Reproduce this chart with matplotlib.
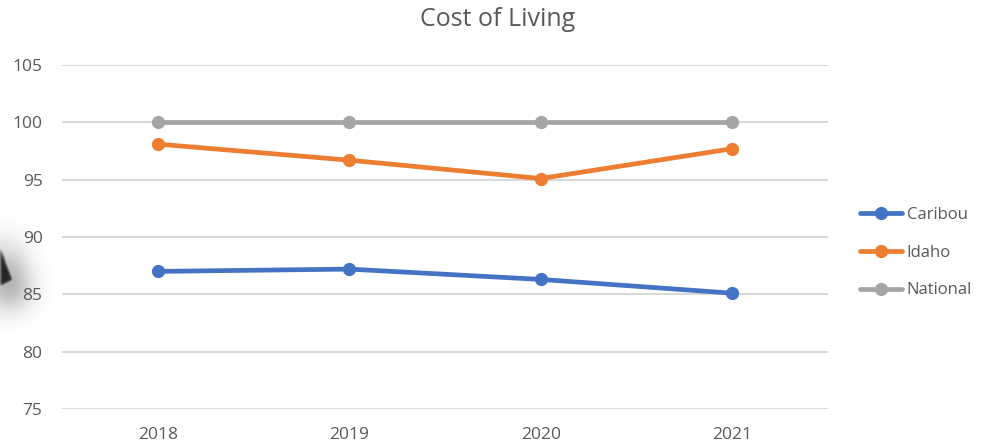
import numpy as np
import matplotlib
matplotlib.use("Agg")
import matplotlib.pyplot as plt
from matplotlib.path import Path

years = ["2018", "2019", "2020", "2021"]
caribou = [87.0, 87.2, 86.3, 85.1]
idaho = [98.1, 96.7, 95.1, 97.7]
national = [100.0, 100.0, 100.0, 100.0]
series_names = ["Caribou", "Idaho", "National"]
colors = ["#4472C4", "#ED7D31", "#A5A5A5"]
yticks = [75, 80, 85, 90, 95, 100, 105]

W, H = 993, 445
fig = plt.figure(figsize=(W / 100, H / 100), dpi=100)
plt.rcParams['font.family'] = ['Open Sans', 'DejaVu Sans']

# decorative blurred dark shape at the left edge (artifact in reference)
def blur(a, s):
    r = int(3 * s)
    k = np.exp(-np.arange(-r, r + 1) ** 2 / (2 * s * s))
    k /= k.sum()
    a = np.apply_along_axis(lambda v: np.convolve(v, k, mode='same'), 0, a)
    a = np.apply_along_axis(lambda v: np.convolve(v, k, mode='same'), 1, a)
    return a

yy, xx = np.mgrid[0:H, 0:W]
pts = np.column_stack([xx.ravel() + 0.5, yy.ravel() + 0.5])
core = Path([(-60, 95), (13, 280), (-120, 347)]).contains_points(pts).reshape(H, W).astype(float)
shadow = Path([(-60, 80), (24, 294), (-120, 365)]).contains_points(pts).reshape(H, W).astype(float)
shadow_b = blur(shadow, 15) * 0.95
core_b = blur(core, 1.5)
alpha = np.clip(np.maximum(shadow_b, core_b), 0, 1)
rgba = np.zeros((H, W, 4))
rgba[..., :3] = np.where(core_b[..., None] > shadow_b[..., None], 0.14, 0.2)
rgba[..., 3] = alpha
bg = fig.add_axes([0, 0, 1, 1], zorder=0)
bg.imshow(rgba, extent=(0, W, H, 0), interpolation='bilinear')
bg.set_xlim(0, W)
bg.set_ylim(H, 0)
bg.axis('off')

ax = fig.add_axes([62 / W, 36 / H, (828 - 62) / W, (409 - 65) / H], zorder=1)
ax.patch.set_alpha(0)
x = np.arange(len(years))
for vals, name, c in zip([caribou, idaho, national], series_names, colors):
    ax.plot(x, vals, color=c, lw=3.4, marker='o', markersize=8.5, label=name,
            solid_capstyle='round', zorder=3)

ax.set_xlim(-0.5, len(years) - 0.5)
ax.set_ylim(75, 105)
ax.set_yticks(yticks)
ax.set_xticks(x)
ax.set_xticklabels(years)
ax.grid(axis='y', color='#D9D9D9', lw=1.5, zorder=0)
for s in ax.spines.values():
    s.set_visible(False)
ax.tick_params(axis='both', length=0, labelsize=12.5, labelcolor='#595959')
ax.tick_params(axis='y', pad=14)
ax.tick_params(axis='x', pad=13)

fig.text(498 / W, 1 - 20 / H, "Cost of Living", ha='center', va='center',
         fontsize=18, color='#595959')

leg = fig.legend(loc='upper left', bbox_to_anchor=(860 / W, 1 - 207 / H),
                 frameon=False, fontsize=12, handlelength=2.5,
                 handletextpad=0.3, labelspacing=1.3, borderaxespad=0,
                 borderpad=0)
for t in leg.get_texts():
    t.set_color('#595959')

fig.savefig("out.png", dpi=100)
